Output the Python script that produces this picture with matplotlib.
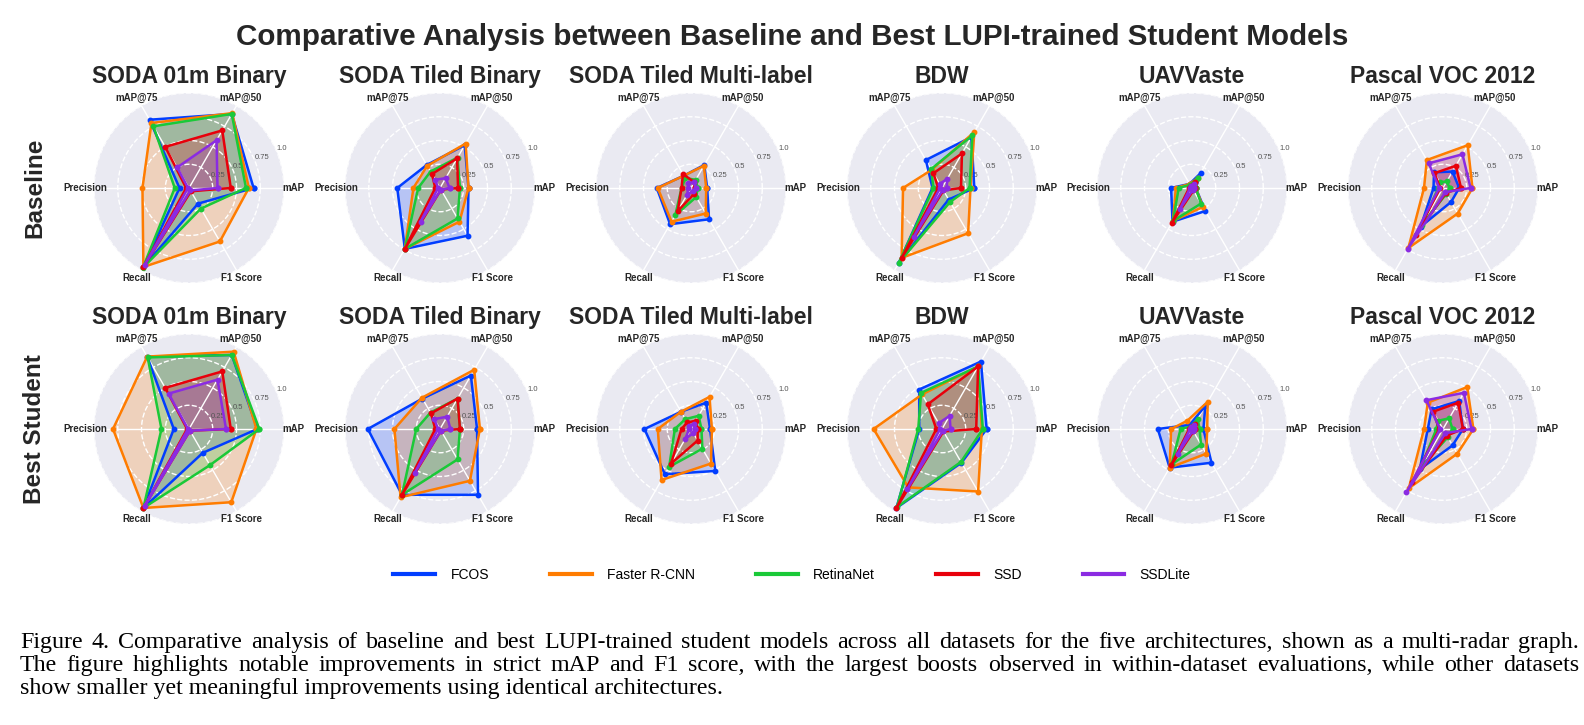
import matplotlib
matplotlib.use("Agg")
import matplotlib.pyplot as plt
import numpy as np

metrics = ['mAP', 'mAP@50', 'mAP@75', 'Precision', 'Recall', 'F1 Score']
models = ['FCOS', 'Faster R-CNN', 'RetinaNet', 'SSD', 'SSDLite']
colors = ['#023eff', '#ff7c00', '#1ac938', '#e8000b', '#8b2be2']
datasets = ['SODA 01m Binary', 'SODA Tiled Binary', 'SODA Tiled Multi-label',
            'BDW', 'UAVVaste', 'Pascal VOC 2012']
row_names = ['Baseline', 'Best Student']

# one row per model (FCOS, Faster R-CNN, RetinaNet, SSD, SSDLite)
# columns follow metrics: mAP, mAP@50, mAP@75, Precision, Recall, F1 Score
soda01m_base = [[0.68, 0.90, 0.83, 0.10, 0.96, 0.19],
                [0.63, 0.91, 0.79, 0.49, 0.96, 0.65],
                [0.60, 0.90, 0.75, 0.15, 0.97, 0.25],
                [0.44, 0.70, 0.50, 0.03, 0.96, 0.04],
                [0.30, 0.58, 0.25, 0.01, 0.93, 0.03]]
tiled_bin_base = [[0.30, 0.52, 0.28, 0.45, 0.74, 0.58],
                  [0.30, 0.54, 0.27, 0.28, 0.74, 0.41],
                  [0.21, 0.37, 0.20, 0.23, 0.74, 0.37],
                  [0.19, 0.36, 0.17, 0.05, 0.74, 0.02],
                  [0.10, 0.12, 0.10, 0.02, 0.41, 0.02]]
tiled_ml_base = [[0.17, 0.28, 0.15, 0.36, 0.44, 0.38],
                 [0.16, 0.27, 0.15, 0.35, 0.41, 0.31],
                 [0.07, 0.10, 0.12, 0.10, 0.33, 0.11],
                 [0.04, 0.07, 0.17, 0.10, 0.28, 0.07],
                 [0.05, 0.07, 0.06, 0.03, 0.08, 0.04]]
bdw_base = [[0.34, 0.62, 0.34, 0.10, 0.91, 0.14],
            [0.30, 0.68, 0.22, 0.41, 0.85, 0.55],
            [0.29, 0.64, 0.23, 0.09, 0.91, 0.17],
            [0.20, 0.42, 0.18, 0.04, 0.85, 0.03],
            [0.05, 0.11, 0.05, 0.02, 0.59, 0.02]]
uav_base = [[0.04, 0.18, 0.05, 0.22, 0.41, 0.28],
            [0.04, 0.12, 0.05, 0.17, 0.40, 0.23],
            [0.04, 0.12, 0.04, 0.14, 0.40, 0.19],
            [0.03, 0.07, 0.03, 0.03, 0.42, 0.03],
            [0.02, 0.05, 0.02, 0.02, 0.25, 0.02]]
voc_base = [[0.17, 0.20, 0.19, 0.10, 0.47, 0.17],
            [0.31, 0.52, 0.34, 0.20, 0.73, 0.31],
            [0.07, 0.08, 0.07, 0.05, 0.45, 0.07],
            [0.19, 0.27, 0.18, 0.03, 0.57, 0.06],
            [0.29, 0.41, 0.30, 0.04, 0.74, 0.05]]

soda01m_best = [[0.72, 0.90, 0.88, 0.16, 0.96, 0.29],
                [0.71, 0.94, 0.88, 0.80, 0.96, 0.89],
                [0.74, 0.90, 0.87, 0.29, 0.96, 0.44],
                [0.44, 0.70, 0.50, 0.02, 0.96, 0.02],
                [0.39, 0.60, 0.43, 0.01, 0.93, 0.02]]
tiled_bin_best = [[0.39, 0.65, 0.37, 0.76, 0.80, 0.80],
                  [0.42, 0.72, 0.38, 0.48, 0.83, 0.63],
                  [0.21, 0.37, 0.20, 0.25, 0.80, 0.37],
                  [0.21, 0.37, 0.19, 0.05, 0.80, 0.02],
                  [0.11, 0.15, 0.12, 0.02, 0.53, 0.02]]
tiled_ml_best = [[0.20, 0.32, 0.21, 0.49, 0.55, 0.51],
                 [0.22, 0.39, 0.21, 0.35, 0.62, 0.42],
                 [0.11, 0.16, 0.12, 0.17, 0.46, 0.24],
                 [0.07, 0.10, 0.08, 0.10, 0.42, 0.14],
                 [0.04, 0.06, 0.04, 0.02, 0.12, 0.05]]
bdw_best = [[0.47, 0.82, 0.48, 0.24, 0.96, 0.41],
            [0.42, 0.76, 0.42, 0.72, 0.71, 0.76],
            [0.43, 0.76, 0.44, 0.25, 0.95, 0.40],
            [0.36, 0.76, 0.30, 0.06, 0.96, 0.03],
            [0.09, 0.16, 0.07, 0.02, 0.73, 0.02]]
uav_best = [[0.12, 0.28, 0.05, 0.36, 0.47, 0.41],
            [0.16, 0.33, 0.10, 0.22, 0.47, 0.30],
            [0.08, 0.12, 0.03, 0.12, 0.43, 0.19],
            [0.03, 0.06, 0.03, 0.03, 0.44, 0.03],
            [0.02, 0.05, 0.02, 0.02, 0.30, 0.02]]
voc_best = [[0.21, 0.34, 0.24, 0.16, 0.49, 0.20],
            [0.32, 0.51, 0.32, 0.20, 0.72, 0.30],
            [0.10, 0.13, 0.10, 0.07, 0.46, 0.10],
            [0.21, 0.32, 0.21, 0.04, 0.65, 0.08],
            [0.30, 0.44, 0.35, 0.03, 0.77, 0.05]]

baseline = [soda01m_base, tiled_bin_base, tiled_ml_base, bdw_base, uav_base, voc_base]
student = [soda01m_best, tiled_bin_best, tiled_ml_best, bdw_best, uav_best, voc_best]

caption = ["Figure 4.  Comparative analysis of baseline and best LUPI-trained student models across all datasets for the five architectures, shown as a multi-radar graph.",
           "The figure highlights notable improvements in strict mAP and F1 score, with the largest boosts observed in within-dataset evaluations, while other datasets",
           "show smaller yet meaningful improvements using identical architectures."]

W, H = 1584, 725
plt.rcParams['font.family'] = ['Liberation Sans', 'DejaVu Sans']
fig = plt.figure(figsize=(W / 100, H / 100), dpi=100)
fig.patch.set_facecolor('white')
text_col = '#262626'

angles = np.linspace(0, 2 * np.pi, len(metrics), endpoint=False)
closed = np.concatenate([angles, angles[:1]])

col_x = [189, 440, 691, 942, 1192, 1443]
row_y = [188, 429]
rad = 95

for r, rows in enumerate([baseline, student]):
    for c, data in enumerate(rows):
        cx, cy = col_x[c], row_y[r]
        ax = fig.add_axes([(cx - rad) / W, 1 - (cy + rad) / H, 2 * rad / W, 2 * rad / H],
                          projection='polar')
        ax.set_facecolor('#EAEAF2')
        for k, vals in enumerate(data):
            v = np.concatenate([vals, vals[:1]])
            ax.plot(closed, v, color=colors[k], linewidth=1.8, marker='o', markersize=3.2)
            ax.fill(closed, v, color=colors[k], alpha=0.22)
        ax.set_ylim(0, 1)
        ax.set_xticks(angles)
        ax.set_xticklabels([])
        ax.set_yticks([0.25, 0.5, 0.75, 1.0])
        ax.set_yticklabels(['0.25', '0.5', '0.75', '1.0'], fontsize=5.5, color='#555555')
        ax.set_rlabel_position(22.5)
        ax.tick_params(length=0)
        ax.xaxis.grid(True, color='white', linewidth=1, linestyle='-')
        ax.yaxis.grid(True, color='white', linewidth=1, linestyle='--')
        ax.spines['polar'].set_visible(False)
        for a, m in zip(angles, metrics):
            ax.text(a, 1.095, m, ha='center', va='center', fontsize=7,
                    fontweight='bold', color=text_col, clip_on=False)
        fig.text(cx / W, 1 - (cy - 105) / H, datasets[c], ha='center', va='baseline',
                 fontsize=16.5, fontweight='bold', color=text_col)
    fig.text(35 / W, 1 - row_y[r] / H, row_names[r], rotation=90, ha='center',
             va='center', fontsize=17.5, fontweight='bold', color=text_col)

fig.text(0.5, 1 - 45 / H, 'Comparative Analysis between Baseline and Best LUPI-trained Student Models',
         ha='center', va='baseline', fontsize=21.3, fontweight='bold', color=text_col)

handles = [plt.Line2D([], [], color=cl, linewidth=3) for cl in colors]
fig.legend(handles, models, loc='center', bbox_to_anchor=(0.5, 1 - 575 / H), ncol=5,
           frameon=False, fontsize=10, handlelength=3, handletextpad=1.1, columnspacing=4.4)

# caption, first two lines justified word by word
renderer = fig.canvas.get_renderer()
left, right = 20, 1579
cap_size = 17.3
for i, line in enumerate(caption):
    y = 1 - (648 + 23 * i) / H
    if i == len(caption) - 1:
        fig.text(left / W, y, line, fontsize=cap_size, family='Liberation Serif', va='baseline')
        continue
    words = line.split()
    txts = [fig.text(0, y, w, fontsize=cap_size, family='Liberation Serif', va='baseline')
            for w in words]
    widths = [t.get_window_extent(renderer).width for t in txts]
    gap = (right - left - sum(widths)) / (len(words) - 1)
    x = left
    for t, w in zip(txts, widths):
        t.set_x(x / W)
        x += w + gap

fig.savefig('out.png', dpi=100)
